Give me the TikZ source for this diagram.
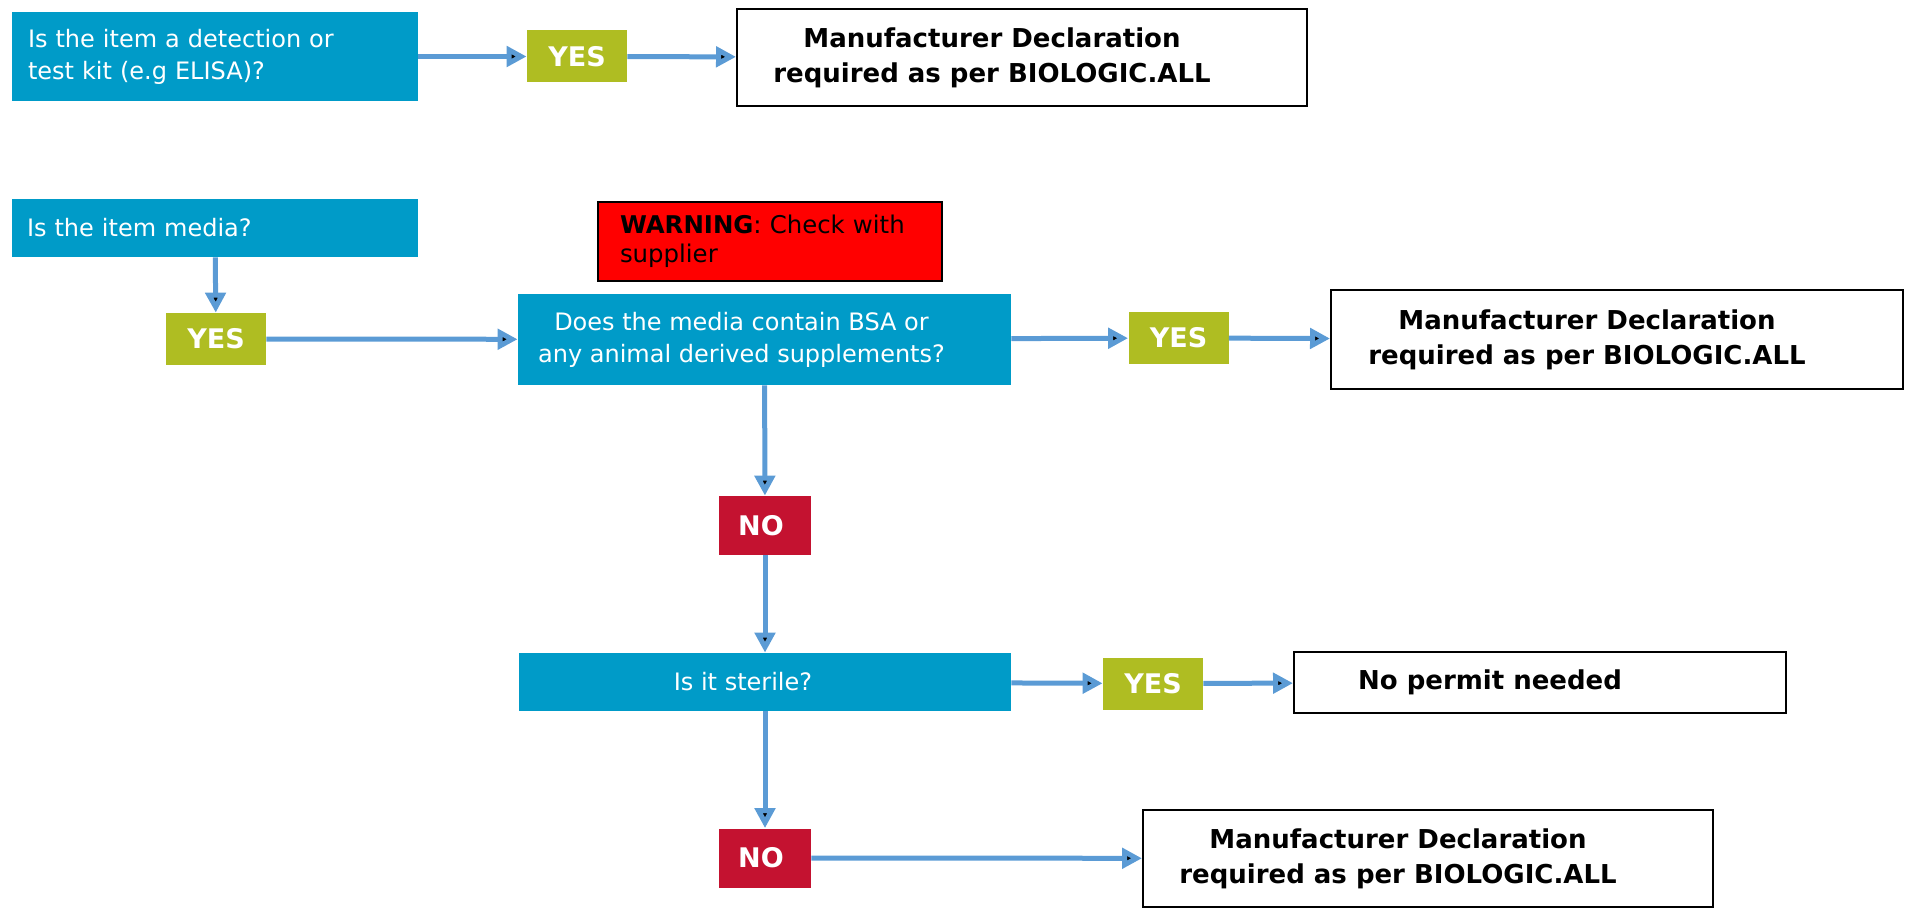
\documentclass[tikz,border=0pt]{standalone}
\usepackage{fontspec}
\setmainfont{DejaVu Sans}
\usetikzlibrary{arrows.meta}
\definecolor{qblue}{RGB}{0,155,200}
\definecolor{yesgreen}{RGB}{175,189,34}
\definecolor{nored}{RGB}{196,18,48}
\definecolor{arrowblue}{RGB}{91,155,213}
\newcommand{\padr}[1]{\hspace*{#1}}
\begin{document}
\begin{tikzpicture}[x=0.5pt, y=-0.5pt,
  question node/.style={rectangle,fill=qblue,text=white,inner ysep=0pt,font=\fontsize{12}{16}\selectfont},
  answer node/.style={rectangle,text=white,inner sep=0pt,font=\fontsize{13.5}{16}\selectfont\bfseries},
  yes node/.style={answer node,fill=yesgreen,minimum width=50pt,minimum height=26pt},
  no node/.style={answer node,fill=nored,minimum width=46pt,minimum height=29.5pt},
  result node/.style={rectangle,draw=black,line width=1pt,fill=white,align=center,inner sep=0pt,font=\fontsize{13}{17.5}\selectfont\bfseries},
  warning node/.style={rectangle,draw=black,line width=1pt,fill=red,align=left,inner xsep=11pt,inner ysep=0pt,font=\fontsize{12.2}{14.5}\selectfont},
  flow/.style={draw=arrowblue,line width=2.5pt,-{Triangle[length=10pt,width=10pt]}}]
\useasboundingbox (0,0) rectangle (1910,909);
% questions
\node [question node,align=left,inner xsep=8pt,text width=187pt,minimum height=44.5pt](q1) at (215,56.5) {Is the item a detection or\\test kit (e.g ELISA)?};
\node [question node,align=left,inner xsep=7.5pt,text width=188pt,minimum height=29pt](q2) at (215,228) {Is the item media?};
\node [question node,align=center,minimum width=246.5pt,minimum height=45.5pt](q3) at (764.5,339.5) {Does the media contain BSA or\padr{23pt}\\any animal derived supplements?\padr{23pt}};
\node [question node,minimum width=246pt,minimum height=29pt](q4) at (765,682) {Is it sterile?\padr{22pt}};
\node [warning node,text width=150pt,minimum height=39.5pt](warn) at (770,241.5) {\textbf{WARNING}: Check with\\supplier};
% answers
\node [yes node](yes1) at (577,56.5) {YES};
\node [yes node](yes2) at (216,339) {YES};
\node [yes node](yes3) at (1178.5,338) {YES};
\node [yes node](yes4) at (1153,683.5) {YES};
\node [no node](no1) at (765,525.5) {NO\padr{4pt}};
\node [no node](no2) at (765,858) {NO\padr{4pt}};
% outcomes
\node [result node,minimum width=285pt,minimum height=48.5pt](res1) at (1022,57.5) {Manufacturer Declaration\padr{30pt}\\required as per BIOLOGIC.ALL\padr{30pt}};
\node [result node,minimum width=286pt,minimum height=49.5pt](res2) at (1617,339.5) {Manufacturer Declaration\padr{30pt}\\required as per BIOLOGIC.ALL\padr{30pt}};
\node [result node,minimum width=246pt,minimum height=30.5pt](res3) at (1540,682.5) {No permit needed\padr{50pt}};
\node [result node,minimum width=285pt,minimum height=48.5pt](res4) at (1428,858.5) {Manufacturer Declaration\padr{30pt}\\required as per BIOLOGIC.ALL\padr{30pt}};
\path [flow]
    (q1) edge (yes1)
    (yes1) edge (res1)
    (q2) edge (yes2)
    (yes2) edge (q3)
    (q3) edge (yes3)
    (yes3) edge (res2)
    (q3) edge (no1)
    (no1) edge (q4)
    (q4) edge (yes4)
    (yes4) edge (res3)
    (q4) edge (no2)
    (no2) edge (res4)
         ;
\end{tikzpicture}
\end{document}
